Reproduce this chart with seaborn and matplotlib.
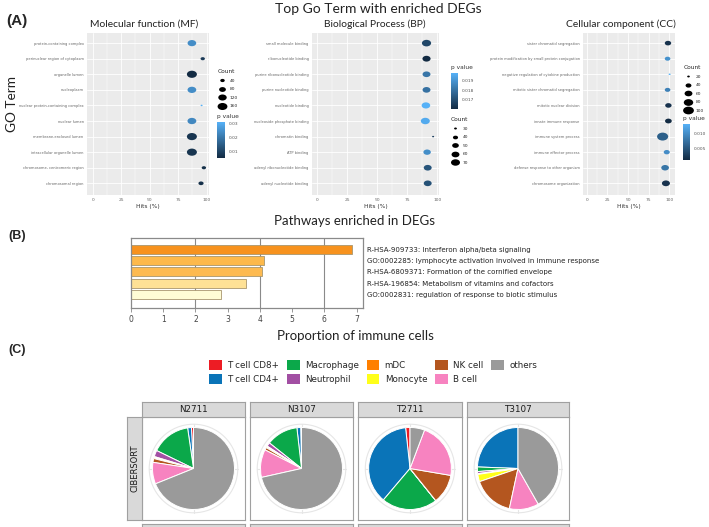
import numpy as np
import pandas as pd
import seaborn as sns
import matplotlib
matplotlib.use("Agg")
from matplotlib import pyplot as plt
from matplotlib.colors import LinearSegmentedColormap, Normalize
from matplotlib.cm import ScalarMappable
from matplotlib.lines import Line2D
from matplotlib.patches import Patch, Circle
from matplotlib.path import Path
from matplotlib.transforms import Affine2D

# ---------------- (A) GO terms ----------------
mf_terms = ["protein-containing complex", "perinuclear region of cytoplasm", "organelle lumen",
            "nucleoplasm", "nuclear protein-containing complex", "nuclear lumen",
            "membrane-enclosed lumen", "intracellular organelle lumen",
            "chromosome, centromeric region", "chromosomal region"]
mf_hits = [87, 96.5, 87, 87, 95.5, 87, 87, 87, 97.5, 95]
mf_count = [125, 38, 165, 128, 15, 130, 165, 165, 38, 50]
mf_pval = [0.024, 0.008, 0.005, 0.024, 0.031, 0.023, 0.007, 0.007, 0.006, 0.006]
mf_count_breaks = [40, 80, 120, 160]
mf_p_breaks = [0.01, 0.02, 0.03]
mf_p_labels = ["0.01", "0.02", "0.03"]

bp_terms = ["small molecule binding", "ribonucleotide binding", "purine ribonucleotide binding",
            "purine nucleotide binding", "nucleotide binding", "nucleoside phosphate binding",
            "chromatin binding", "ATP binding", "adenyl ribonucleotide binding",
            "adenyl nucleotide binding"]
bp_hits = [91, 91, 91, 91, 90.5, 90, 96.5, 91.5, 92, 92]
bp_count = [72, 62, 60, 60, 66, 70, 28, 56, 60, 60]
bp_pval = [0.0168, 0.0160, 0.0181, 0.0180, 0.0198, 0.0196, 0.0166, 0.0188, 0.0172, 0.0171]
bp_count_breaks = [30, 40, 50, 60, 70]
bp_p_breaks = [0.017, 0.018, 0.019]
bp_p_labels = ["0.017", "0.018", "0.019"]

cc_terms = ["sister chromatid segregation", "protein modification by small protein conjugation",
            "negative regulation of cytokine production", "mitotic sister chromatid segregation",
            "mitotic nuclear division", "innate immune response", "immune system process",
            "immune effector process", "defense response to other organism",
            "chromosome organization"]
cc_hits = [98.5, 98, 100.5, 98, 99, 99, 92, 97, 95, 96]
cc_count = [45, 38, 18, 38, 45, 48, 105, 42, 58, 62]
cc_pval = [0.002, 0.0105, 0.0133, 0.009, 0.002, 0.0013, 0.006, 0.010, 0.008, 0.002]
cc_count_breaks = [20, 40, 60, 80, 100]
cc_p_breaks = [0.005, 0.010]
cc_p_labels = ["0.005", "0.010"]

# ---------------- (B) pathways ----------------
pw_labels = ["R-HSA-909733: Interferon alpha/beta signaling",
             "GO:0002285: lymphocyte activation involved in immune response",
             "R-HSA-6809371: Formation of the cornified envelope",
             "R-HSA-196854: Metabolism of vitamins and cofactors",
             "GO:0002831: regulation of response to biotic stimulus"]
pw_values = [6.85, 4.14, 4.08, 3.58, 2.79]
pw_colors = ["#F7921E", "#FDB94B", "#FDBA50", "#FEE196", "#FFFCD5"]

# ---------------- (C) immune cells ----------------
cell_types = ["T cell CD8+", "T cell CD4+", "Macrophage", "Neutrophil", "mDC",
              "Monocyte", "NK cell", "B cell", "others"]
cell_colors = ["#ED1C24", "#0A74B8", "#0BA84A", "#A24FA3", "#FF7F00",
               "#FFFF1A", "#B4561F", "#F783C0", "#9A9A9A"]
samples = ["N2711", "N3107", "T2711", "T3107"]
prop_n2711 = [0.8, 1.5, 15.5, 2.5, 0.4, 0.4, 1.5, 8.5, 68.9]
prop_n3107 = [0.3, 1.5, 12.5, 1.5, 0.3, 0.4, 1.0, 11.0, 71.5]
prop_t2711 = [1.7, 37.2, 21.8, 0.0, 0.0, 0.0, 11.6, 22.0, 5.7]
prop_t3107 = [0.0, 24.4, 1.8, 0.8, 0.3, 2.9, 16.4, 11.7, 41.7]

W, H = 709, 527
sns.set_style("white")
plt.rcParams["font.family"] = ["DejaVu Sans"]
TITLE_FONT = ["Lato", "DejaVu Sans"]
LABEL_FONT = ["Liberation Sans", "DejaVu Sans"]

fig = plt.figure(figsize=(W / 100, H / 100), dpi=100)


def px_axes(x0, y0, x1, y1):
    return fig.add_axes([x0 / W, 1 - y1 / H, (x1 - x0) / W, (y1 - y0) / H])


def fx(x):
    return x / W


def fy(y):
    return 1 - y / H


go_cmap = LinearSegmentedColormap.from_list("ggblue", ["#132B43", "#56B1F7"])
ellipse = Path.unit_circle().transformed(Affine2D().scale(1.4, 1.0))


def go_dotplot(box, title, title_x, terms, hits, counts, pvals, xlim, count_breaks,
               p_breaks, p_labels, smax, count_xy, cbar_box):
    ax = px_axes(*box)
    df = pd.DataFrame({"term": terms, "hits": hits, "count": counts, "p": pvals})
    norm = Normalize(min(pvals), max(pvals))
    cnorm = (min(counts), max(counts))
    sizes = (2.2, smax)
    sns.scatterplot(data=df, x="hits", y="term", hue="p", size="count", palette=go_cmap,
                    hue_norm=norm, sizes=sizes, size_norm=cnorm, marker=ellipse,
                    linewidth=0, legend=False, ax=ax, zorder=3)
    ax.set_facecolor("#EBEBEB")
    for s in ax.spines.values():
        s.set_visible(False)
    ax.set_xlim(*xlim)
    ax.set_ylim(len(terms) - 0.25, -0.65)
    ax.set_xticks([0, 25, 50, 75, 100])
    ax.set_xticks([12.5, 37.5, 62.5, 87.5], minor=True)
    ax.grid(which="major", color="white", lw=0.6)
    ax.grid(which="minor", axis="x", color="white", lw=0.3)
    ax.set_axisbelow(True)
    ax.tick_params(axis="both", which="major", length=1.5, width=0.4, color="#777",
                   labelcolor="#666", pad=1)
    ax.tick_params(axis="y", labelsize=2.6)
    ax.tick_params(axis="x", labelsize=3.2)
    ax.tick_params(which="minor", length=0)
    ax.set_xlabel("Hits (%)", fontsize=4.2, color="#333", labelpad=1)
    ax.set_ylabel("")
    fig.text(fx(title_x), fy(24), title, ha="center", va="center", fontsize=7.4,
             family=TITLE_FONT, color="#222")

    # size legend
    lo, hi = cnorm
    handles = []
    for b in count_breaks:
        s = sizes[0] + (b - lo) / (hi - lo) * (sizes[1] - sizes[0])
        handles.append(Line2D([], [], marker=ellipse, ls="", color="black",
                              markersize=np.sqrt(max(s, 1.0)), markeredgewidth=0))
    ax.legend(handles, [str(b) for b in count_breaks], title="Count", loc="upper left",
              bbox_to_anchor=(fx(count_xy[0]), fy(count_xy[1])), bbox_transform=fig.transFigure,
              frameon=False, fontsize=3.2, title_fontsize=4.2, alignment="left",
              handlelength=2.3, handletextpad=0.5, labelspacing=1.0, borderpad=0)

    # colour bar
    cax = px_axes(*cbar_box)
    cb = fig.colorbar(ScalarMappable(norm=norm, cmap=go_cmap), cax=cax, ticks=p_breaks)
    cb.outline.set_visible(False)
    cb.ax.tick_params(labelsize=3.2, length=1.5, width=0.4, color="white",
                      labelcolor="#555", pad=1.5)
    cb.ax.set_yticklabels(p_labels)
    fig.text(fx(cbar_box[0]), fy(cbar_box[1] - 3), "p value", fontsize=4.2, color="#333",
             ha="left", va="bottom")
    return ax


go_dotplot((87, 33, 209, 195), "Molecular function (MF)", 144, mf_terms, mf_hits, mf_count,
           mf_pval, (-5, 102), mf_count_breaks, mf_p_breaks, mf_p_labels, 52,
           (215, 67), (217, 122, 225, 158))
go_dotplot((312, 33, 439, 195), "Biological Process (BP)", 375, bp_terms, bp_hits, bp_count,
           bp_pval, (-4.4, 101.4), bp_count_breaks, bp_p_breaks, bp_p_labels, 44,
           (448, 115), (451, 73, 458, 109))
go_dotplot((583, 33, 675, 195), "Cellular component (CC)", 621, cc_terms, cc_hits, cc_count,
           cc_pval, (-4.5, 107), cc_count_breaks, cc_p_breaks, cc_p_labels, 64,
           (681, 63), (683, 124, 690, 160))

fig.text(fx(378), fy(9), "Top Go Term with enriched DEGs", ha="center", va="center",
         fontsize=10, family=TITLE_FONT, color="#222")
fig.text(fx(6), fy(21), "(A)", ha="left", va="center", fontsize=11, fontweight="bold",
         family=LABEL_FONT)
fig.text(fx(12), fy(104), "GO Term", ha="center", va="center", rotation=90, fontsize=9.8,
         family=TITLE_FONT, color="#222")

# ---------------- (B) ----------------
axb = px_axes(131, 238, 363, 308)
sns.barplot(x=pw_values, y=pw_labels, hue=pw_labels, palette=pw_colors, orient="h",
            width=0.8, saturation=1, edgecolor="#A8966E", linewidth=0.6, legend=False, ax=axb)
for v in (2, 4, 6):
    axb.axvline(v, color="#8A8A8A", lw=0.8, zorder=0)
axb.set_xlim(0, 7.2)
axb.set_ylim(5.22, -1.03)
axb.set_xticks(range(8))
axb.yaxis.tick_right()
axb.tick_params(axis="y", length=0, pad=3, labelsize=5.0, labelcolor="#222")
for lab in axb.get_yticklabels():
    lab.set_family(["Liberation Sans Narrow", "DejaVu Sans"])
axb.tick_params(axis="x", bottom=True, length=3, width=0.6, color="#888", labelsize=5.5,
                labelcolor="#444", pad=2)
for s in axb.spines.values():
    s.set_color("#8A8A8A")
    s.set_linewidth(0.9)
axb.set_xlabel("")
axb.set_ylabel("")
fig.text(fx(355), fy(221), "Pathways enriched in DEGs", ha="center", va="center",
         fontsize=9.5, family=TITLE_FONT, color="#222")
fig.text(fx(8), fy(236), "(B)", ha="left", va="center", fontsize=9, fontweight="bold",
         family=LABEL_FONT)

# ---------------- (C) ----------------
fig.text(fx(355), fy(336), "Proportion of immune cells", ha="center", va="center",
         fontsize=9.5, family=TITLE_FONT, color="#222")
fig.text(fx(8), fy(350), "(C)", ha="left", va="center", fontsize=9, fontweight="bold",
         family=LABEL_FONT)

leg_handles = [Patch(facecolor=c, edgecolor="none") for c in cell_colors]
fig.legend(leg_handles, cell_types, ncol=5, loc="upper left",
           bbox_to_anchor=(fx(205), fy(356)), frameon=False, fontsize=6.3,
           handlelength=1.45, handleheight=1.35, handletextpad=0.6, columnspacing=0.9,
           labelspacing=0.4, borderpad=0)

props = [prop_n2711, prop_n3107, prop_t2711, prop_t3107]
col_x = [(142, 245), (250, 353), (358, 462), (467, 569)]
for (x0, x1), name, vals in zip(col_x, samples, props):
    ax = px_axes(x0, 417, x1, 520)
    ax.add_patch(Circle((0, 0), 1.08, fill=False, ec="#E6E6E6", lw=0.8, zorder=0))
    for dx, dy in ((0, 1), (1, 0), (0, -1), (-1, 0)):
        ax.plot([0, 1.08 * dx], [0, 1.08 * dy], color="#E6E6E6", lw=0.8, zorder=0)
    ax.pie(vals, colors=cell_colors, startangle=90, counterclock=True, radius=1.0,
           wedgeprops=dict(edgecolor="white", linewidth=0.7))
    ax.set_frame_on(True)
    ax.set_xlim(-1.256, 1.256)
    ax.set_ylim(-1.256, 1.256)
    ax.set_aspect("auto")
    ax.set_xticks([])
    ax.set_yticks([])
    for s in ax.spines.values():
        s.set_color("#A0A0A0")
        s.set_linewidth(0.8)

    sax = px_axes(x0, 402, x1, 417)
    sax.set_facecolor("#D9D9D9")
    sax.set_xticks([])
    sax.set_yticks([])
    for s in sax.spines.values():
        s.set_color("#A0A0A0")
        s.set_linewidth(0.8)
    sax.text(0.5, 0.5, name, ha="center", va="center", fontsize=6.3, color="#1A1A1A",
             transform=sax.transAxes)

    bax = px_axes(x0, 524, x1, 540)
    bax.set_facecolor("#D9D9D9")
    bax.set_xticks([])
    bax.set_yticks([])
    for s in bax.spines.values():
        s.set_color("#A0A0A0")

lax = px_axes(127, 417, 142, 520)
lax.set_facecolor("#D9D9D9")
lax.set_xticks([])
lax.set_yticks([])
for s in lax.spines.values():
    s.set_color("#A0A0A0")
    s.set_linewidth(0.8)
lax.text(0.5, 0.5, "CIBERSORT", ha="center", va="center", rotation=90, fontsize=6,
         color="#1A1A1A", transform=lax.transAxes)

fig.savefig("out.png", dpi=100)
